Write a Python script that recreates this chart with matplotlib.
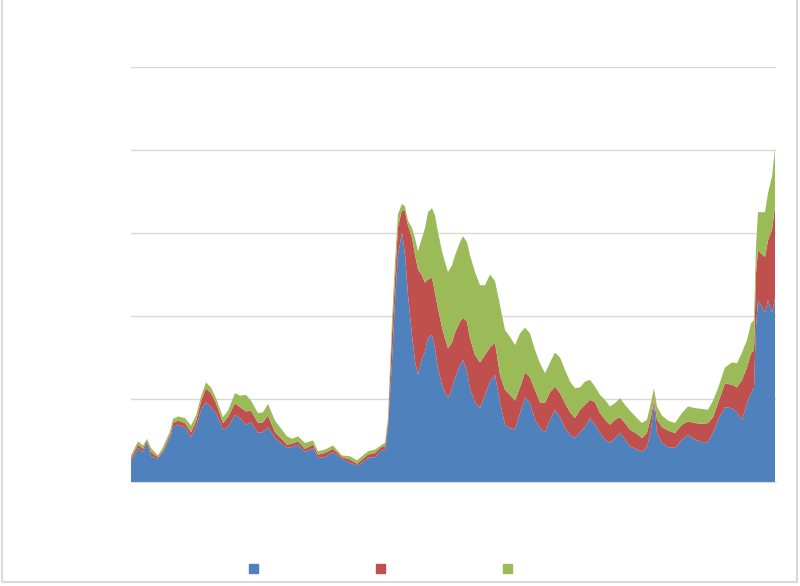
import matplotlib
matplotlib.use('Agg')
from matplotlib import pyplot as plt
from matplotlib.patches import Rectangle, Patch

# time index (days from start) and stacked series values
days = [0, 7, 12, 16, 20, 27, 32, 39, 42, 47, 54, 60, 65, 70, 75, 80, 85, 92, 97,
        104, 109, 115, 120, 127, 132, 137, 144, 149, 156, 161, 167, 174, 182, 187,
        194, 202, 211, 219, 226, 231, 237, 244, 251, 254, 257, 261, 264, 267, 271,
        274, 277, 281, 284, 287, 291, 294, 297, 301, 304, 307, 311, 314, 317, 321,
        324, 329, 332, 336, 339, 344, 349, 354, 359, 364, 369, 374, 379, 384, 389,
        394, 399, 404, 409, 414, 419, 424, 429, 434, 439, 444, 449, 454, 459, 464,
        469, 474, 479, 484, 489, 494, 499, 506, 511, 516, 520, 523, 526, 531, 537,
        544, 551, 557, 564, 571, 577, 582, 587, 594, 601, 606, 611, 616, 620, 623,
        625, 627, 631, 634, 637, 641, 644]

blue = [24, 41, 36, 48, 31, 28, 36, 53, 66, 69, 66, 54, 66, 87, 96, 90, 83, 63, 66,
        81, 77, 69, 72, 59, 60, 66, 53, 48, 41, 42, 45, 36, 41, 29, 30, 36, 28, 23,
        20, 23, 29, 30, 39, 37, 65, 145, 217, 274, 301, 274, 225, 177, 145, 129, 149,
        157, 174, 177, 161, 137, 117, 108, 101, 113, 125, 141, 147, 133, 113, 96, 89,
        105, 121, 129, 96, 69, 65, 63, 83, 102, 95, 75, 65, 60, 75, 87, 78, 65, 57,
        53, 60, 66, 77, 69, 59, 51, 47, 53, 59, 51, 43, 39, 36, 42, 63, 95, 59, 47,
        42, 41, 51, 57, 51, 48, 48, 59, 75, 90, 89, 84, 75, 95, 107, 114, 187, 219,
        211, 204, 219, 204, 221]

red = [4, 4, 4, 2, 5, 2, 2, 4, 5, 5, 5, 6, 7, 10, 17, 17, 12, 8, 12, 14, 13, 16, 14,
       12, 12, 14, 7, 6, 4, 4, 4, 4, 4, 4, 5, 4, 2, 4, 2, 4, 4, 5, 4, 6, 7, 33, 29,
       33, 27, 52, 84, 117, 129, 127, 100, 83, 70, 69, 67, 72, 69, 65, 60, 55, 55,
       52, 51, 60, 60, 57, 55, 48, 41, 39, 33, 42, 40, 35, 31, 30, 31, 36, 31, 35,
       33, 28, 29, 30, 27, 24, 27, 27, 22, 27, 24, 24, 22, 22, 19, 20, 20, 19, 17,
       17, 16, 4, 16, 19, 20, 18, 18, 16, 20, 22, 23, 19, 20, 29, 28, 30, 48, 43,
       48, 45, 65, 60, 63, 67, 72, 100, 111]

green = [4, 4, 4, 2, 5, 2, 4, 4, 5, 5, 6, 8, 7, 6, 7, 7, 6, 7, 8, 12, 14, 20, 12, 12,
         12, 14, 14, 12, 10, 6, 6, 7, 5, 4, 4, 4, 2, 4, 4, 4, 4, 4, 2, 4, 5, 16, 19,
         16, 7, 6, 6, 12, 20, 22, 45, 66, 81, 84, 93, 92, 92, 92, 92, 93, 93, 96, 98,
         96, 100, 100, 93, 84, 88, 74, 84, 72, 70, 67, 65, 54, 53, 48, 47, 36, 36,
         41, 43, 40, 37, 36, 27, 28, 24, 19, 22, 24, 22, 20, 23, 22, 23, 19, 18, 16,
         17, 14, 16, 14, 12, 12, 14, 18, 18, 18, 16, 20, 18, 19, 27, 29, 33, 33, 36,
         36, 31, 46, 51, 54, 57, 64, 69]

colors = ['#4f81bd', '#c0504d', '#9bbb59']
series_names = ['Series 1', 'Series 2', 'Series 3']

fig = plt.figure(figsize=(8, 5.86), dpi=100)
fig.patch.set_facecolor('white')
ax = fig.add_axes([0.16375, 0.1775, 0.80625, 0.7082])

ax.stackplot(days, blue, red, green, colors=colors, linewidth=0)

ax.set_xlim(0, 645)
ax.set_ylim(0, 500)
ax.set_yticks([0, 100, 200, 300, 400, 500])
ax.yaxis.grid(True, color='#d9d9d9', linewidth=1)
ax.set_axisbelow(True)
for side in ['top', 'right', 'left']:
    ax.spines[side].set_visible(False)
ax.spines['bottom'].set_color('#d9d9d9')
ax.tick_params(axis='both', length=0, labelcolor='white')

# legend: coloured squares only, labels are white as in the reference
handles = [Patch(facecolor=c, edgecolor=c) for c in colors]
leg = fig.legend(handles, series_names, loc='center left', bbox_to_anchor=(0.304, 0.029),
                 ncol=3, frameon=False, handlelength=0.7, handleheight=0.7,
                 columnspacing=4.9, handletextpad=0.5, borderpad=0, fontsize=9)
for t in leg.get_texts():
    t.set_color('white')

# thin grey frame round the chart
fig.patches.append(Rectangle((0.002, 0.006), 0.994, 1.1, transform=fig.transFigure,
                             fill=False, edgecolor='#d9d9d9', linewidth=1.5))

fig.savefig('out.png', dpi=100)
